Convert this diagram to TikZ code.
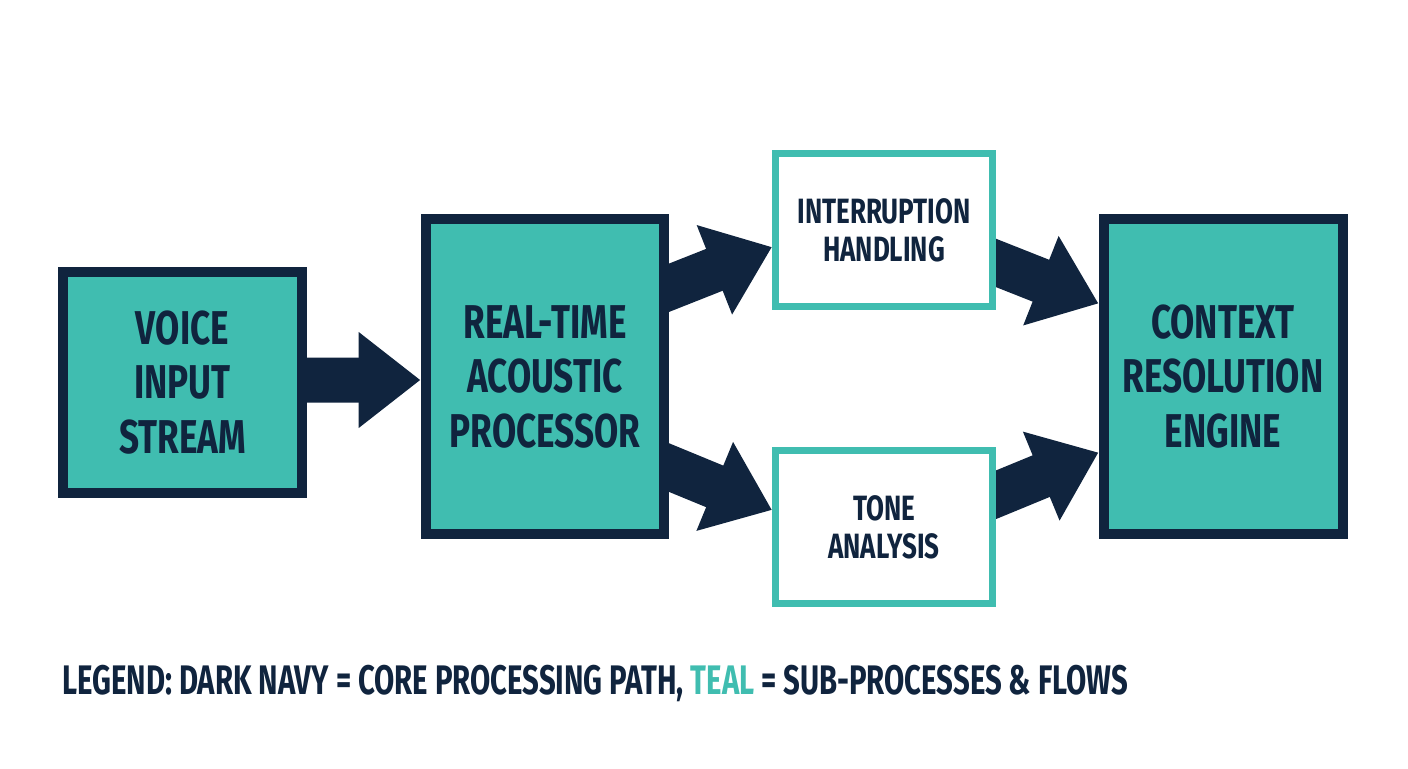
\documentclass[tikz,border=0pt]{standalone}
\usepackage{fontspec}
\setmainfont{Fira Sans}[FakeStretch=0.74]
\newfontfamily\legendfont{Fira Sans}[FakeStretch=0.71]
\usetikzlibrary{arrows.meta,calc,backgrounds}
\definecolor{navy}{HTML}{10243E}
\definecolor{teal}{HTML}{40BDB0}
\begin{document}
\begin{tikzpicture}[x=0.02cm,y=-0.02cm,
  corebox/.style={draw=navy,fill=teal,line width=0.2cm,minimum width=4.78cm,align=center,
    text=navy,font=\fontsize{27}{31}\selectfont\bfseries},
  subbox/.style={draw=teal,fill=white,line width=0.14cm,minimum width=4.34cm,minimum height=3.06cm,
    align=center,text=navy,font=\fontsize{20}{21.5}\selectfont\bfseries},
  fat/.style={draw=navy,line width=0.9cm,-{Triangle[length=1.24cm,width=1.84cm]}}]
\useasboundingbox (0,0) rectangle (1408,768);
\node[corebox,minimum height=4.42cm] (voice) at (182.5,382.5) {VOICE\\INPUT\\STREAM};
\node[corebox,minimum height=6.3cm] (proc) at (545,376.5) {REAL-TIME\\ACOUSTIC\\PROCESSOR};
\node[subbox] (intr) at (884,230) {INTERRUPTION\\HANDLING};
\node[subbox] (tone) at (884,527) {TONE\\ANALYSIS};
\node[corebox,minimum height=6.3cm] (ctx) at (1223,376.5) {CONTEXT\\RESOLUTION\\ENGINE};
\node[anchor=west,text=navy,font=\fontsize{23.5}{27}\legendfont\bfseries] (legend) at (56,683)
  {LEGEND: DARK NAVY = CORE PROCESSING PATH, \textcolor{teal}{TEAL} = SUB-PROCESSES \& FLOWS};
\begin{pgfonlayer}{background}
\draw[fat] ($(voice.east)+(-15,-2.5)$) -- ($(proc.west)+(0,3.5)$);
\draw[fat] ($(proc.east)+(-20,-81)$) -- ($(intr.west)+(0,17)$);
\draw[fat] ($(proc.east)+(-20,83)$) -- ($(tone.west)+(0,-17)$);
\draw[fat] ($(intr.east)+(-20,25)$) -- ($(ctx.west)+(0,-73)$);
\draw[fat] ($(tone.east)+(-20,-24)$) -- ($(ctx.west)+(0,76)$);
\end{pgfonlayer}
\end{tikzpicture}
\end{document}
